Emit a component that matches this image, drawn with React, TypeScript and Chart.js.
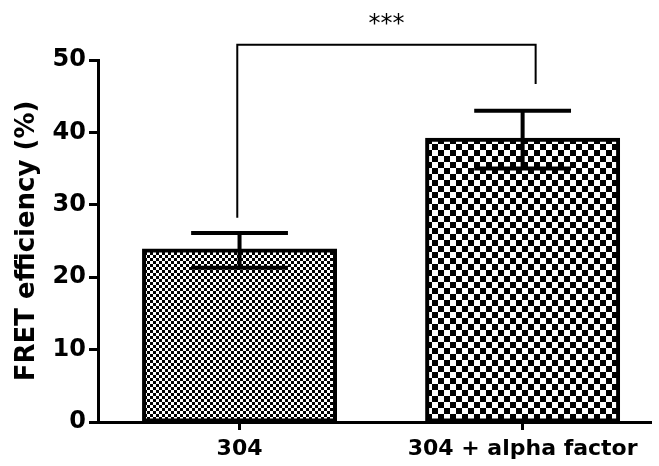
import React, { useEffect, useRef } from 'react';
import { Chart, registerables } from 'chart.js';

Chart.register(...registerables);

const categories = ['304', '304 + alpha factor'];
const means = [23.7, 39.0];
const errors = [2.4, 4.0];
const yTickValues = [0, 10, 20, 30, 40, 50];
const significance = '***';
const checkerCells = [3, 6];

function makeChecker(cell: number): CanvasPattern | string {
  const c = document.createElement('canvas');
  c.width = cell * 2;
  c.height = cell * 2;
  const g = c.getContext('2d');
  if (!g) return '#000';
  g.fillStyle = '#fff';
  g.fillRect(0, 0, cell * 2, cell * 2);
  g.fillStyle = '#000';
  g.fillRect(0, 0, cell, cell);
  g.fillRect(cell, cell, cell, cell);
  return g.createPattern(c, 'repeat') || '#000';
}

const errorBarPlugin = {
  id: 'errorBars',
  afterDatasetsDraw(chart: any) {
    const { ctx, scales } = chart;
    const x = scales.x;
    const y = scales.y;
    ctx.save();
    ctx.strokeStyle = '#000';
    ctx.lineWidth = 4;
    ctx.lineCap = 'butt';
    means.forEach((m, i) => {
      const px = x.getPixelForValue(i);
      const half = (x.getPixelForValue(1) - x.getPixelForValue(0)) * 0.171;
      const top = y.getPixelForValue(m + errors[i]);
      const bot = y.getPixelForValue(m - errors[i]);
      ctx.beginPath();
      ctx.moveTo(px, top);
      ctx.lineTo(px, bot);
      ctx.moveTo(px - half, top);
      ctx.lineTo(px + half, top);
      ctx.moveTo(px - half, bot);
      ctx.lineTo(px + half, bot);
      ctx.stroke();
    });
    ctx.restore();
  },
};

const bracketPlugin = {
  id: 'bracket',
  afterDraw(chart: any) {
    const { ctx, scales } = chart;
    const x = scales.x;
    const y = scales.y;
    const x0 = x.getPixelForValue(-0.008);
    const x1 = x.getPixelForValue(1.046);
    const yTop = y.getPixelForValue(52.1);
    const yL = y.getPixelForValue(28.2);
    const yR = y.getPixelForValue(46.7);
    ctx.save();
    ctx.strokeStyle = '#000';
    ctx.lineWidth = 2;
    ctx.beginPath();
    ctx.moveTo(x0, yL);
    ctx.lineTo(x0, yTop);
    ctx.lineTo(x1, yTop);
    ctx.lineTo(x1, yR);
    ctx.stroke();
    ctx.fillStyle = '#000';
    ctx.font = '24px "DejaVu Sans"';
    ctx.textAlign = 'center';
    ctx.textBaseline = 'middle';
    ctx.fillText(significance, (x0 + x1) / 2, y.getPixelForValue(54.8));
    ctx.restore();
  },
};

export default function App() {
  const ref = useRef<HTMLCanvasElement | null>(null);

  useEffect(() => {
    if (!ref.current) return;
    const patterns = checkerCells.map(makeChecker);
    const chart = new Chart(ref.current, {
      type: 'bar',
      data: {
        datasets: [
          {
            data: means.map((v, i) => ({ x: i, y: v })),
            backgroundColor: patterns as any,
            borderColor: '#000',
            borderWidth: 4,
            borderSkipped: false,
            inflateAmount: 2,
            barThickness: 191,
            clip: 0,
          } as any,
        ],
      },
      options: {
        animation: false,
        responsive: true,
        maintainAspectRatio: false,
        layout: { padding: { top: 60, right: 9, left: 0, bottom: 0 } },
        plugins: { legend: { display: false }, tooltip: { enabled: false } },
        scales: {
          x: {
            type: 'linear',
            min: -0.5,
            max: 1.45,
            offset: false,
            afterBuildTicks: (s: any) => {
              s.ticks = categories.map((_, i) => ({ value: i }));
            },
            afterFit: (s: any) => {
              s.height = 44;
            },
            grid: {
              display: true,
              drawOnChartArea: false,
              drawTicks: true,
              tickLength: 8,
              lineWidth: 3,
              color: '#000',
              offset: false,
            },
            border: { display: true, color: '#000', width: 3 },
            ticks: {
              color: '#000',
              padding: 6,
              font: { family: 'DejaVu Sans', weight: 'bold', size: 22 },
              callback: (v: any) => categories[Math.round(Number(v))] ?? '',
            },
          },
          y: {
            min: 0,
            max: 50,
            afterBuildTicks: (s: any) => {
              s.ticks = yTickValues.map((v) => ({ value: v }));
            },
            afterFit: (s: any) => {
              s.width = 98;
            },
            grid: {
              display: true,
              drawOnChartArea: false,
              drawTicks: true,
              tickLength: 9,
              lineWidth: 3,
              color: '#000',
            },
            border: { display: true, color: '#000', width: 3 },
            ticks: {
              color: '#000',
              padding: 3,
              font: { family: 'DejaVu Sans', weight: 'bold', size: 24 },
            },
            title: {
              display: true,
              text: 'FRET efficiency (%)',
              color: '#000',
              padding: { top: 12, bottom: 0 },
              font: { family: 'DejaVu Sans', weight: 'bold', size: 26 },
            },
          },
        },
      },
      plugins: [errorBarPlugin, bracketPlugin],
    });
    return () => chart.destroy();
  }, []);

  return (
    <div style={{ position: 'absolute', left: 0, top: 0, width: 659, height: 466 }}>
      <canvas ref={ref} />
    </div>
  );
}
